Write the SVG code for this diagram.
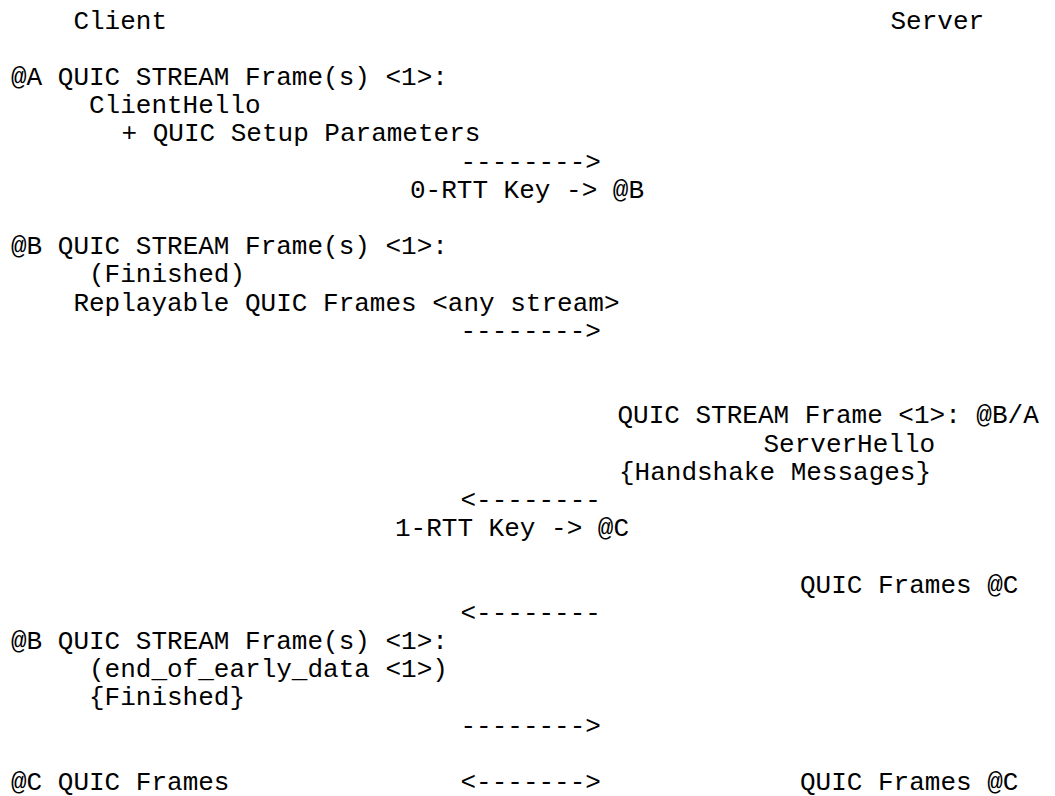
<svg xmlns="http://www.w3.org/2000/svg" width="1055" height="796" viewBox="0 0 1055 796">
  <style>
    text { font-family: "Liberation Mono", "Courier New", monospace; font-size: 26px; fill: #000; white-space: pre; }
  </style>
  <rect width="1055" height="796" fill="#fff"/>

  <!-- endpoints -->
  <g id="client"><text x="73.4" y="28.5">Client</text></g>
  <g id="server"><text x="890.5" y="28.5">Server</text></g>

  <!-- client flight 1 (0-RTT) -->
  <g id="msg-a-clienthello">
    <text x="11" y="84.9">@A QUIC STREAM Frame(s) &lt;1&gt;:</text>
    <text x="89" y="113.1">ClientHello</text>
    <text x="121.5" y="141.3">+ QUIC Setup Parameters</text>
  </g>
  <g id="key-0rtt"><text x="410" y="197.7">0-RTT Key -&gt; @B</text></g>

  <g id="msg-b-early">
    <text x="11" y="254.1">@B QUIC STREAM Frame(s) &lt;1&gt;:</text>
    <text x="89" y="282.3">(Finished)</text>
    <text x="73.4" y="310.5">Replayable QUIC Frames &lt;any stream&gt;</text>
  </g>

  <!-- server flight -->
  <g id="msg-server-hello">
    <text x="617.5" y="423.3">QUIC STREAM Frame &lt;1&gt;: @B/A</text>
    <text x="763.5" y="451.5">ServerHello</text>
    <text x="619" y="479.7">{Handshake Messages}</text>
  </g>
  <g id="key-1rtt"><text x="395" y="536.1">1-RTT Key -&gt; @C</text></g>
  <g id="msg-server-frames"><text x="800" y="592.5">QUIC Frames @C</text></g>

  <!-- client flight 2 -->
  <g id="msg-b-finished">
    <text x="11" y="648.9">@B QUIC STREAM Frame(s) &lt;1&gt;:</text>
    <text x="89" y="677.1">(end_of_early_data &lt;1&gt;)</text>
    <text x="89" y="705.3">{Finished}</text>
  </g>

  <!-- application data -->
  <g id="client-frames-c"><text x="11" y="789.9">@C QUIC Frames</text></g>
  <g id="server-frames-c"><text x="800" y="789.9">QUIC Frames @C</text></g>

  <!-- arrows between the two columns -->
  <g id="connectors">
    <text x="460.5" y="169.5">--------&gt;</text>
    <text x="460.5" y="338.7">--------&gt;</text>
    <text x="460.5" y="507.9">&lt;--------</text>
    <text x="460.5" y="620.7">&lt;--------</text>
    <text x="460.5" y="733.5">--------&gt;</text>
    <text x="460.5" y="789.9">&lt;-------&gt;</text>
  </g>
</svg>
